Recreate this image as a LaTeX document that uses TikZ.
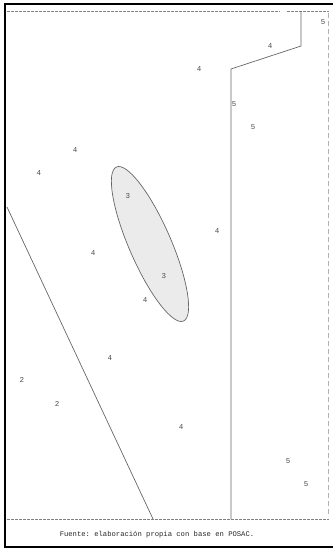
\documentclass[tikz,border=0pt]{standalone}
\usepackage{fontspec}
\setmonofont{Liberation Mono}
\begin{document}
\begin{tikzpicture}[x=1pt,y=-1pt,
  lbl/.style={font=\ttfamily\fontsize{7.5}{8}\selectfont, text=black!70, inner sep=0pt},
  region/.style={draw=black!60, line width=0.7pt},
  dashline/.style={draw=black!50, dash pattern=on 2.5pt off 1.5pt, line width=0.7pt},
  vdashline/.style={draw=black!30, dash pattern=on 5pt off 3pt, line width=0.8pt},
  frame/.style={draw=black, line width=2pt}]
\useasboundingbox (0,0) rectangle (333,550);
% outer frame
\draw[frame] (5,547) -- (5,3.5) -- (333,3.5);
\draw[frame] (4,547) -- (333,547);
% dashed box
\draw[dashline] (7,11) -- (280,11);
\draw[dashline] (287,11) -- (329,11);
\draw[vdashline] (328,13) -- (328,517);
\draw[dashline] (7,519) -- (329,519);
% partition lines
\coordinate (p1) at (301,11);
\coordinate (p2) at (301,46);
\coordinate (p3) at (231,69);
\coordinate (p4) at (231,519);
\draw[region] (p1) -- (p2) -- (p3) -- (p4);
\coordinate (d1) at (7,207);
\coordinate (d2) at (153,519);
\draw[region] (d1) -- (d2);
% ellipse
\draw[region, fill=black!8] (150,244) ellipse[x radius=84, y radius=21, rotate=-66.5];
% labels
\node[lbl] (a1) at (323,22) {5};
\node[lbl] (a2) at (270,46) {4};
\node[lbl] (a3) at (199,69) {4};
\node[lbl] (a4) at (234,104) {5};
\node[lbl] (a5) at (253,127) {5};
\node[lbl] (a6) at (75,150) {4};
\node[lbl] (a7) at (39,173) {4};
\node[lbl] (a8) at (128,196) {3};
\node[lbl] (a9) at (217,231) {4};
\node[lbl] (a10) at (93,253) {4};
\node[lbl] (a11) at (164,276) {3};
\node[lbl] (a12) at (145,300) {4};
\node[lbl] (a13) at (110,358) {4};
\node[lbl] (a14) at (22,380) {2};
\node[lbl] (a15) at (57,404) {2};
\node[lbl] (a16) at (181,427) {4};
\node[lbl] (a17) at (288,461) {5};
\node[lbl] (a18) at (306,484) {5};
\node[font=\ttfamily\fontsize{7.2}{9}\selectfont, text=black!85, inner sep=0pt] (cap) at (157,535) {Fuente: elaboración propia con base en POSAC.};
\end{tikzpicture}
\end{document}
